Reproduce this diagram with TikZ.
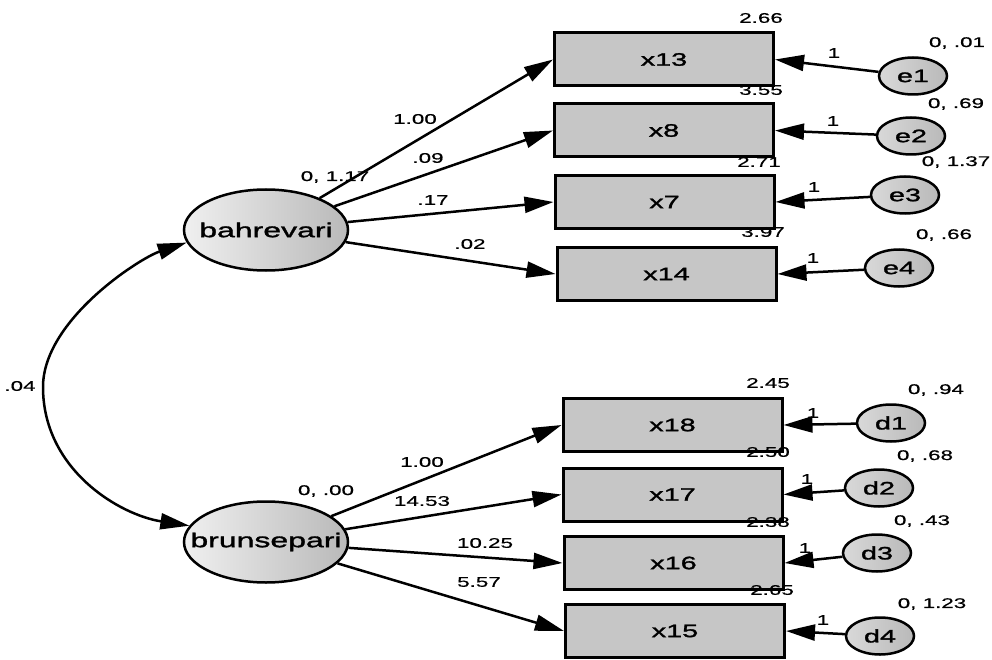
\documentclass[tikz,border=0pt]{standalone}
\usepackage{fontspec}
\setmainfont{Liberation Sans}[FakeStretch=1.6]
\newfontfamily\namefont{Liberation Sans}[FakeStretch=1.6, FakeBold=1.6]
\newfontfamily\numfont{Liberation Sans}[FakeStretch=1.6, FakeBold=0.6]
\usetikzlibrary{shapes.geometric,arrows.meta}
\tikzset{
  lat/.style={ellipse, draw, line width=2.5pt, minimum width=164pt, minimum height=81pt, inner sep=0pt,
    left color=gray!12, right color=gray!55, font=\fontsize{20}{20}\namefont},
  obs/.style={rectangle, draw, line width=3pt, minimum width=219pt, minimum height=53pt, inner sep=0pt,
    fill=gray!45, font=\fontsize{18}{18}\namefont},
  err/.style={ellipse, draw, line width=2.5pt, minimum width=68pt, minimum height=37pt, inner sep=0pt,
    left color=gray!30, right color=gray!55, font=\fontsize{18}{18}\namefont},
  lbl/.style={inner sep=0pt, font=\fontsize{14}{14}\numfont},
  conn/.style={line width=2.5pt, -{Triangle[length=29pt,width=16pt]}},
  cov/.style={line width=2.5pt, {Triangle[length=29pt,width=16pt]}-{Triangle[length=29pt,width=16pt]}},
}
\begin{document}
\begin{tikzpicture}[x=1pt,y=-1pt]
\useasboundingbox (0,0) rectangle (992,660);
% latent variables
\node[lat] (bah) at (266,230) {\makebox[0pt]{bahrevari}};
\node[lat] (brun) at (266,542) {\makebox[0pt]{brunsepari}};
% observed variables
\node[obs] (x13) at (664,59.5) {x13};
\node[obs] (x8) at (664,130.5) {x8};
\node[obs] (x7) at (664.5,202) {x7};
\node[obs] (x14) at (666.5,274) {x14};
\node[obs] (x18) at (672.5,425) {x18};
\node[obs] (x17) at (672.5,494.5) {x17};
\node[obs] (x16) at (673.5,563) {x16};
\node[obs] (x15) at (675,631) {x15};
% error terms
\node[err] (e1) at (913,76) {e1};
\node[err] (e2) at (911,136) {e2};
\node[err] (e3) at (905,195) {e3};
\node[err] (e4) at (899,268) {e4};
\node[err] (d1) at (891,423) {d1};
\node[err] (d2) at (879,488) {d2};
\node[err] (d3) at (877,553) {d3};
\node[err] (d4) at (880,636) {d4};
% loadings
\draw[conn] (bah) -- (x13.west);
\draw[conn] (bah) -- (x8.west);
\draw[conn] (bah) -- (x7.west);
\draw[conn] (bah) -- (x14.west);
\draw[conn] (brun) -- (x18.west);
\draw[conn] (brun) -- (x17.west);
\draw[conn] (brun) -- (x16.west);
\draw[conn] (brun) -- (x15.west);
% errors
\draw[conn] (e1) -- (x13.east);
\draw[conn] (e2) -- (x8.east);
\draw[conn] (e3) -- (x7.east);
\draw[conn] (e4) -- (x14.east);
\draw[conn] (d1) -- (x18.east);
\draw[conn] (d2) -- (x17.east);
\draw[conn] (d3) -- (x16.east);
\draw[conn] (d4) -- (x15.east);
% covariance
\coordinate (cmid) at (43,387);
\draw[cov] (bah.189) .. controls (140,258) and (43,320) .. (cmid)
  .. controls (43,470) and (120,515) .. (brun.168);
% labels
\node[lbl] (lcov) at (20,386) {.04};
\node[lbl] (vbah) at (335,177) {0, 1.17};
\node[lbl] (vbrun) at (326,491) {0, .00};
\node[lbl] (w1) at (415,119) {1.00};
\node[lbl] (w2) at (428,158) {.09};
\node[lbl] (w3) at (433,200) {.17};
\node[lbl] (w4) at (470,244) {.02};
\node[lbl] (w5) at (422,462) {1.00};
\node[lbl] (w6) at (422,501) {14.53};
\node[lbl] (w7) at (485,543) {10.25};
\node[lbl] (w8) at (479,582) {5.57};
\node[lbl] (i1) at (761,18) {2.66};
\node[lbl] (i2) at (761,90) {3.55};
\node[lbl] (i3) at (759,162) {2.71};
\node[lbl] (i4) at (763,232) {3.97};
\node[lbl] (i5) at (768,383) {2.45};
\node[lbl] (i6) at (768,452) {2.50};
\node[lbl] (i7) at (768,522) {2.38};
\node[lbl] (i8) at (772,590) {2.65};
\node[lbl] (v1) at (957,43) {0, .01};
\node[lbl] (v2) at (956,104) {0, .69};
\node[lbl] (v3) at (956,162) {0, 1.37};
\node[lbl] (v4) at (944,235) {0, .66};
\node[lbl] (v5) at (936,390) {0, .94};
\node[lbl] (v6) at (925,456) {0, .68};
\node[lbl] (v7) at (922,521) {0, .43};
\node[lbl] (v8) at (932,604) {0, 1.23};
\node[lbl] (o1) at (834,53) {1};
\node[lbl] (o2) at (833,121) {1};
\node[lbl] (o3) at (814,187) {1};
\node[lbl] (o4) at (813,258) {1};
\node[lbl] (o5) at (813,413) {1};
\node[lbl] (o6) at (807,479) {1};
\node[lbl] (o7) at (805,548) {1};
\node[lbl] (o8) at (823,620) {1};
\end{tikzpicture}
\end{document}
